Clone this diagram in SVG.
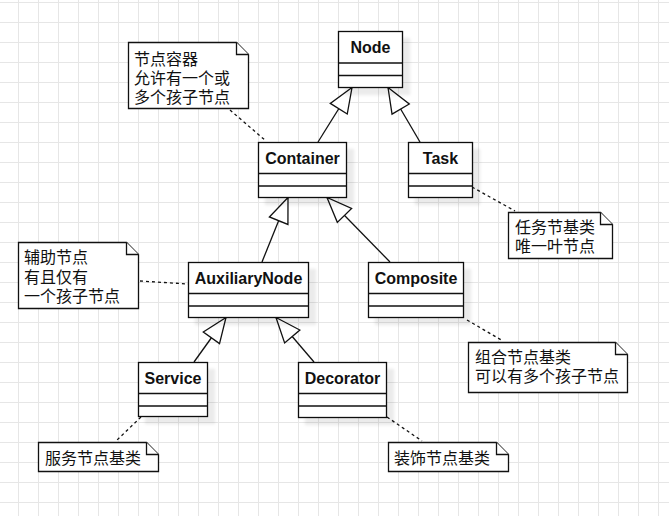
<svg xmlns="http://www.w3.org/2000/svg" width="669" height="516" viewBox="0 0 669 516">
<defs>
<pattern id="grid" width="20" height="20" patternUnits="userSpaceOnUse" x="18" y="2">
<path d="M0.5 0 V20 M0 0.5 H20" stroke="#e6e6e6" stroke-width="1" fill="none"/>
</pattern>
<filter id="sh" x="-20%" y="-20%" width="140%" height="140%">
<feDropShadow dx="7" dy="7" stdDeviation="1.5" flood-color="#000" flood-opacity="0.08"/>
</filter>
<marker id="ext" markerUnits="userSpaceOnUse" markerWidth="30" markerHeight="24" viewBox="-26 -12 28 24" refX="0" refY="0" orient="auto" overflow="visible">
<path d="M0 0 L-25 -10 L-25 10 Z" fill="#fff" stroke="#111" stroke-width="1.3" stroke-linejoin="miter"/>
</marker>
</defs>
<style>
.box{fill:#fff;stroke:#111;stroke-width:1.3}
.sep{stroke:#111;stroke-width:1.3}
.lbl{font-family:"Liberation Sans",Arial,sans-serif;font-weight:bold;font-size:16px;fill:#111;text-anchor:middle}
.note{fill:#fff;stroke:#111;stroke-width:1.3}
.nt{font-family:"Noto Sans CJK SC","Noto Sans",sans-serif;font-size:16px;fill:#111}
.dash{stroke:#111;stroke-width:1.3;stroke-dasharray:3 3;fill:none}
.inh{stroke:#111;stroke-width:1.3;fill:none;marker-end:url(#ext)}
</style>
<rect width="669" height="516" fill="#fff"/>
<rect width="669" height="516" fill="url(#grid)"/>

<g id="connectors">
<path class="inh" d="M318 142 L352 87.5"/>
<path class="inh" d="M420 142 L388 87.5"/>
<path class="inh" d="M262 262 L288 197.5"/>
<path class="inh" d="M390 262 L327 197.5"/>
<path class="inh" d="M194 362 L226 317.5"/>
<path class="inh" d="M314 362 L276 317.5"/>
<path class="dash" d="M230 110 L266 141"/>
<path class="dash" d="M140 281 L188 284"/>
<path class="dash" d="M472 187 L515 211"/>
<path class="dash" d="M467 320 L503 341"/>
<path class="dash" d="M141 417 L116 441"/>
<path class="dash" d="M387 417 L422 441"/>
</g>

<g id="node-Node">
<rect class="box" filter="url(#sh)" x="338.5" y="31.5" width="64" height="56"/>
<line class="sep" x1="338.5" y1="63" x2="402.5" y2="63"/>
<line class="sep" x1="338.5" y1="75.5" x2="402.5" y2="75.5"/>
<text class="lbl" x="370.5" y="53">Node</text>
</g>
<g id="node-Container">
<rect class="box" filter="url(#sh)" x="258.5" y="142.5" width="88" height="55"/>
<line class="sep" x1="258.5" y1="173.5" x2="346.5" y2="173.5"/>
<line class="sep" x1="258.5" y1="186" x2="346.5" y2="186"/>
<text class="lbl" x="302.5" y="163.5">Container</text>
</g>
<g id="node-Task">
<rect class="box" filter="url(#sh)" x="408.5" y="142.5" width="64" height="55"/>
<line class="sep" x1="408.5" y1="173.5" x2="472.5" y2="173.5"/>
<line class="sep" x1="408.5" y1="186" x2="472.5" y2="186"/>
<text class="lbl" x="440.5" y="163.5">Task</text>
</g>
<g id="node-AuxiliaryNode">
<rect class="box" filter="url(#sh)" x="188.5" y="262.5" width="120" height="55"/>
<line class="sep" x1="188.5" y1="293.5" x2="308.5" y2="293.5"/>
<line class="sep" x1="188.5" y1="306" x2="308.5" y2="306"/>
<text class="lbl" x="248.5" y="283.5">AuxiliaryNode</text>
</g>
<g id="node-Composite">
<rect class="box" filter="url(#sh)" x="368.5" y="262.5" width="95" height="55"/>
<line class="sep" x1="368.5" y1="293.5" x2="463.5" y2="293.5"/>
<line class="sep" x1="368.5" y1="306" x2="463.5" y2="306"/>
<text class="lbl" x="416" y="283.5">Composite</text>
</g>
<g id="node-Service">
<rect class="box" filter="url(#sh)" x="138.5" y="362.5" width="69" height="54"/>
<line class="sep" x1="138.5" y1="393.5" x2="207.5" y2="393.5"/>
<line class="sep" x1="138.5" y1="406" x2="207.5" y2="406"/>
<text class="lbl" x="173" y="383.5">Service</text>
</g>
<g id="node-Decorator">
<rect class="box" filter="url(#sh)" x="298.5" y="362.5" width="88" height="55"/>
<line class="sep" x1="298.5" y1="393.5" x2="386.5" y2="393.5"/>
<line class="sep" x1="298.5" y1="406" x2="386.5" y2="406"/>
<text class="lbl" x="342.5" y="383.5">Decorator</text>
</g>

<g id="note-container">
<path class="note" d="M128.5 42.5 H236.5 L248.5 54.5 V108.5 H128.5 Z"/>
<path class="note" d="M236.5 42.5 V54.5 H248.5" fill="none"/>
<text class="nt" x="134" y="65"><tspan x="134">节点容器</tspan><tspan x="134" dy="19">允许有一个或</tspan><tspan x="134" dy="18.5">多个孩子节点</tspan></text>
</g>
<g id="note-auxiliary">
<path class="note" d="M18.5 242.5 H126.5 L138.5 254.5 V308.5 H18.5 Z"/>
<path class="note" d="M126.5 242.5 V254.5 H138.5" fill="none"/>
<text class="nt" x="24" y="263"><tspan x="24">辅助节点</tspan><tspan x="24" dy="19.5">有且仅有</tspan><tspan x="24" dy="19">一个孩子节点</tspan></text>
</g>
<g id="note-task">
<path class="note" d="M508.5 212.5 H600.5 L612.5 224.5 V258.5 H508.5 Z"/>
<path class="note" d="M600.5 212.5 V224.5 H612.5" fill="none"/>
<text class="nt" x="515" y="233"><tspan x="515">任务节基类</tspan><tspan x="515" dy="18.5">唯一叶节点</tspan></text>
</g>
<g id="note-composite">
<path class="note" d="M468.5 342.5 H615.5 L627.5 354.5 V392.5 H468.5 Z"/>
<path class="note" d="M615.5 342.5 V354.5 H627.5" fill="none"/>
<text class="nt" x="475" y="363"><tspan x="475">组合节点基类</tspan><tspan x="475" dy="19">可以有多个孩子节点</tspan></text>
</g>
<g id="note-service">
<path class="note" d="M38.5 442.5 H146.5 L158.5 454.5 V471.5 H38.5 Z"/>
<path class="note" d="M146.5 442.5 V454.5 H158.5" fill="none"/>
<text class="nt" x="45" y="464">服务节点基类</text>
</g>
<g id="note-decorator">
<path class="note" d="M388.5 442.5 H496.5 L508.5 454.5 V471.5 H388.5 Z"/>
<path class="note" d="M496.5 442.5 V454.5 H508.5" fill="none"/>
<text class="nt" x="394" y="463.5">装饰节点基类</text>
</g>
</svg>
